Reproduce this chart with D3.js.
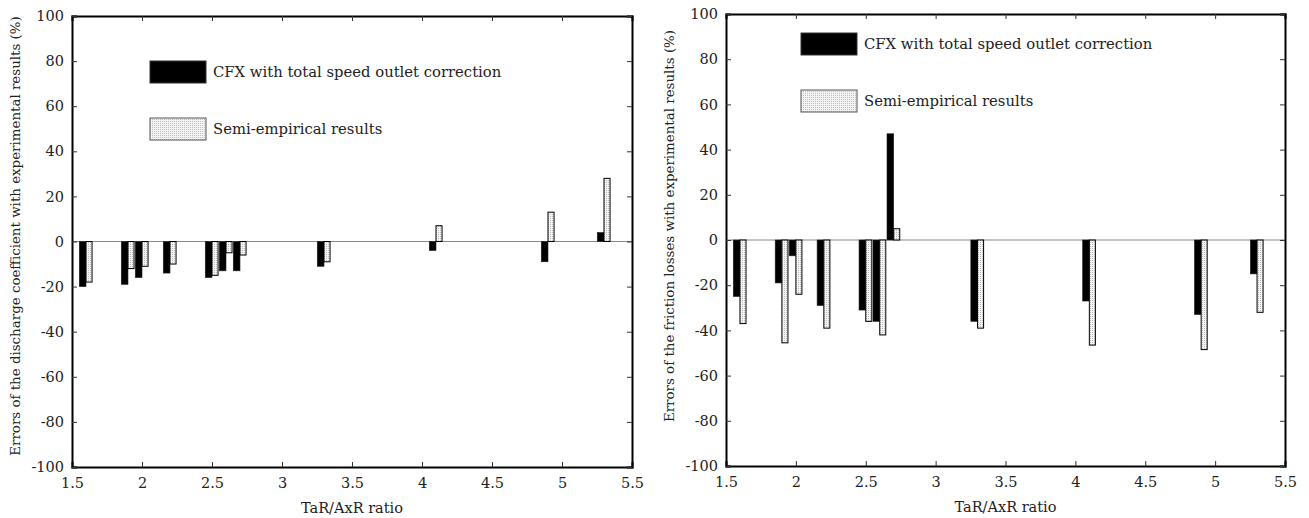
<!DOCTYPE html>
<html>
<head>
<meta charset="utf-8">
<script src="https://cdn.jsdelivr.net/npm/d3@7"></script>
<style>
  body { margin: 0; background: #fff; }
  svg { display: block; }
  svg text { font-family: "DejaVu Serif", "Liberation Serif", serif; }
</style>
</head>
<body>
<svg id="chart" width="1309" height="518"></svg>
<script>
// TaR/AxR ratios of the tested cases
const ratios = [1.6, 1.9, 2.0, 2.2, 2.5, 2.6, 2.7, 3.3, 4.1, 4.9, 5.3];

// left panel: discharge coefficient errors (%)
const dischargeCFX  = [-20, -19, -16, -14, -16, -13, -13, -11, -4, -9, 4];
const dischargeSemi = [-18, -12, -11, -10, -15, -5, -6, -9, 7, 13, 28];

// right panel: friction losses errors (%)
const frictionCFX  = [-25, -19, -7, -29, -31, -36, 47, -36, -27, -33, -15];
const frictionSemi = [-37, -45.5, -24, -39, -36, -42, 5, -39, -46.5, -48.5, -32];

const seriesNames = ['CFX with total speed outlet correction', 'Semi-empirical results'];
const xTicks = [1.5, 2, 2.5, 3, 3.5, 4, 4.5, 5, 5.5];
const yTicks = [-100, -80, -60, -40, -20, 0, 20, 40, 60, 80, 100];

const svg = d3.select('#chart');

// fine stipple used for the semi-empirical bars
const pat = svg.append('defs').append('pattern')
  .attr('id', 'stipple')
  .attr('patternUnits', 'userSpaceOnUse')
  .attr('width', 2).attr('height', 2);
pat.append('rect').attr('width', 2).attr('height', 2).attr('fill', '#f4f4f4');
pat.append('rect').attr('width', 1).attr('height', 1).attr('fill', '#bdbdbd');

const barW = 0.048;

function drawPanel(opts) {
  const { left, top, width, height, cfx, semi, yTitle, legendDx, legendDy, titleMid } = opts;
  const g = svg.append('g').attr('transform', `translate(${left},${top})`);

  const x = d3.scaleLinear().domain([1.5, 5.5]).range([0, width]);
  const y = d3.scaleLinear().domain([-100, 100]).range([height, 0]);

  // zero line
  g.append('line')
    .attr('x1', 0).attr('x2', width)
    .attr('y1', y(0)).attr('y2', y(0))
    .attr('stroke', '#8a8a8a').attr('stroke-width', 1.2);

  // cfx bars (left of the ratio)
  g.selectAll('rect.cfx').data(ratios).enter().append('rect')
    .attr('class', 'cfx')
    .attr('x', d => x(d - barW))
    .attr('width', d => x(d) - x(d - barW))
    .attr('y', (d, i) => y(Math.max(0, cfx[i])))
    .attr('height', (d, i) => Math.abs(y(cfx[i]) - y(0)))
    .attr('fill', '#000')
    .attr('stroke', '#222').attr('stroke-width', 0.6);

  // semi-empirical bars (right of the ratio)
  g.selectAll('rect.semi').data(ratios).enter().append('rect')
    .attr('class', 'semi')
    .attr('x', d => x(d))
    .attr('width', d => x(d + barW * 0.9) - x(d))
    .attr('y', (d, i) => y(Math.max(0, semi[i])))
    .attr('height', (d, i) => Math.abs(y(semi[i]) - y(0)))
    .attr('fill', 'url(#stipple)')
    .attr('stroke', '#000').attr('stroke-width', 1);

  // axes with inward ticks on all four sides
  const fmt = d => String(d);
  g.append('g').attr('transform', `translate(0,${height})`)
    .call(d3.axisBottom(x).tickValues(xTicks).tickSize(-5).tickPadding(11).tickFormat(fmt));
  g.append('g')
    .call(d3.axisTop(x).tickValues(xTicks).tickSize(-5).tickFormat(''));
  g.append('g')
    .call(d3.axisLeft(y).tickValues(yTicks).tickSize(-5).tickPadding(8).tickFormat(fmt));
  g.append('g').attr('transform', `translate(${width},0)`)
    .call(d3.axisRight(y).tickValues(yTicks).tickSize(-5).tickFormat(''));

  g.selectAll('.domain').attr('stroke', '#000').attr('stroke-width', 2);
  g.selectAll('.tick line').attr('stroke', '#333').attr('stroke-width', 1);
  g.selectAll('.tick text').attr('font-size', 14.5).attr('fill', '#222');

  // axis titles
  g.append('text')
    .attr('x', width / 2).attr('y', height + 46)
    .attr('text-anchor', 'middle')
    .attr('font-size', 14.5).attr('fill', '#222')
    .text('TaR/AxR ratio');

  g.append('text')
    .attr('transform', `translate(-52,${titleMid}) rotate(-90)`)
    .attr('text-anchor', 'middle')
    .attr('font-size', 13.4).attr('fill', '#222')
    .text(yTitle);

  // legend
  const lg = g.append('g').attr('transform', `translate(${legendDx},${legendDy})`);
  const fills = ['#000', 'url(#stipple)'];
  seriesNames.forEach((name, i) => {
    lg.append('rect')
      .attr('x', 0).attr('y', i * 57)
      .attr('width', 56).attr('height', 22)
      .attr('fill', fills[i])
      .attr('stroke', i === 0 ? '#333' : '#555').attr('stroke-width', 1);
    lg.append('text')
      .attr('x', 63).attr('y', i * 57 + 16)
      .attr('font-size', 14.8).attr('fill', '#222')
      .text(name);
  });
}

drawPanel({
  left: 72, top: 16, width: 560, height: 451,
  cfx: dischargeCFX, semi: dischargeSemi,
  yTitle: 'Errors of the discharge coefficient with experimental results (%)',
  legendDx: 78, legendDy: 45, titleMid: 220
});

drawPanel({
  left: 726, top: 14, width: 559, height: 452,
  cfx: frictionCFX, semi: frictionSemi,
  yTitle: 'Errors of the friction losses with experimental results (%)',
  legendDx: 75, legendDy: 19, titleMid: 212
});
</script>
</body>
</html>
